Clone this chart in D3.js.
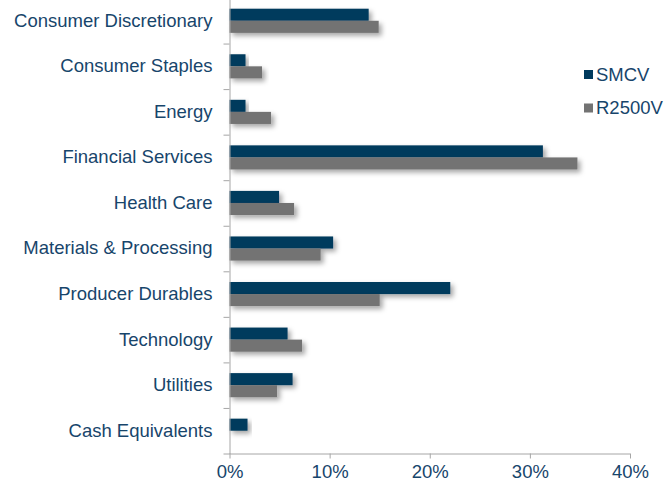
<!DOCTYPE html>
<html><head><meta charset="utf-8">
<script src="https://cdn.jsdelivr.net/npm/d3@7"></script>
<style>body{margin:0;background:#fff}svg{display:block}text{font-family:"Liberation Sans",Arial,sans-serif}</style>
</head><body>
<svg id="c" width="672" height="482"></svg>
<script>
const categories = ["Consumer Discretionary","Consumer Staples","Energy","Financial Services","Health Care","Materials & Processing","Producer Durables","Technology","Utilities","Cash Equivalents"];
const seriesNames = ["SMCV","R2500V"];
const smcv = [13.9,1.6,1.6,31.3,4.95,10.35,22.05,5.8,6.3,1.8];
const r2500v = [14.9,3.25,4.15,34.75,6.45,9.1,15.0,7.25,4.75,0];
const xTicks = [0,10,20,30,40];
const colors = ["#003a5d","#737373"];
const textColor = "#17456b";
const fs = 18.5;

const svg = d3.select("#c");
const defs = svg.append("defs");
const f = defs.append("filter").attr("id","sh").attr("x","-10%").attr("y","-50%").attr("width","130%").attr("height","250%");
f.append("feDropShadow").attr("dx",3).attr("dy",3).attr("stdDeviation",2.4).attr("flood-color","#000").attr("flood-opacity",0.35);

const x = d3.scaleLinear().domain([0,40]).range([229.5,630]);
const y = d3.scaleBand().domain(categories).range([-2,453.5]);
const inner = d3.scaleBand().domain(seriesNames).range([y.bandwidth()*0.235, y.bandwidth()*0.765]);

const data = categories.map((c,i)=>({c, vals:[smcv[i], r2500v[i]]}));
const g = svg.append("g");
g.selectAll("g.cat").data(data).join("g").attr("class","cat")
 .attr("transform",d=>`translate(0,${y(d.c)})`)
 .selectAll("rect").data(d=>d.vals.map((v,k)=>({v,k})).filter(e=>e.v>0)).join("rect")
 .attr("x",x(0)).attr("y",e=>inner(seriesNames[e.k])).attr("height",inner.bandwidth())
 .attr("width",e=>x(e.v)-x(0)).attr("fill",e=>colors[e.k]).attr("filter","url(#sh)");

// x axis
const xa = svg.append("g").attr("transform","translate(0,453.5)")
 .call(d3.axisBottom(x).tickValues(xTicks).tickFormat(d=>d+"%").tickSize(5).tickPadding(6));
xa.select(".domain").attr("stroke","#a6a6a6").attr("d",`M${x(0)-6},0.5H${x(40)}`);
xa.selectAll(".tick line").attr("stroke","#a6a6a6");
xa.selectAll(".tick text").attr("fill",textColor).attr("font-size",fs).attr("font-family","Liberation Sans, Arial, sans-serif");

// y axis
const ya = svg.append("g").attr("transform",`translate(${x(0)},0)`)
 .call(d3.axisLeft(y).tickSize(0).tickPadding(17));
ya.select(".domain").attr("stroke","#a6a6a6").attr("d","M0.5,-2V454");
ya.selectAll(".tick text").attr("fill",textColor).attr("font-size",fs).attr("font-family","Liberation Sans, Arial, sans-serif");
// category boundary ticks
ya.selectAll("line.b").data(categories.slice(1)).join("line").attr("class","b")
 .attr("x1",-6).attr("x2",0).attr("y1",d=>y(d)+0.5).attr("y2",d=>y(d)+0.5).attr("stroke","#a6a6a6");

// legend
const lg = svg.append("g").attr("transform","translate(584,70)");
seriesNames.forEach((s,i)=>{
  const r = lg.append("g").attr("transform",`translate(0,${i*33.5})`);
  r.append("rect").attr("width",9).attr("height",9).attr("fill",colors[i]);
  r.append("text").attr("x",12).attr("y",4.5).attr("dy","0.35em").attr("fill",textColor).attr("font-size",fs).text(s);
});
</script>
</body></html>
